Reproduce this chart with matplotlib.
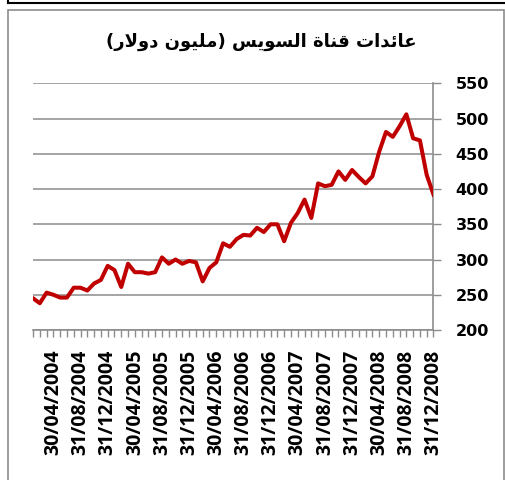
import matplotlib
matplotlib.use("Agg")
import matplotlib.pyplot as plt
from matplotlib.patches import Rectangle
from matplotlib.lines import Line2D

# Monthly Suez Canal revenue, Jan 2004 .. Dec 2008 (million USD)
revenue = [
    245, 238, 253, 250, 246, 246, 260, 260, 256, 266,
    271, 291, 285, 261, 294, 282, 282, 280, 282, 303,
    294, 300, 294, 298, 296, 269, 288, 296, 323, 318,
    329, 335, 334, 345, 339, 350, 350, 326, 352, 366,
    385, 359, 408, 404, 406, 425, 413, 427, 417, 408,
    418, 453, 481, 474, 489, 506, 472, 469, 420, 392,
]
tick_idx = [3, 7, 11, 15, 19, 23, 27, 31, 35, 39, 43, 47, 51, 55, 59]
tick_labels = [
    "30/04/2004", "31/08/2004", "31/12/2004",
    "30/04/2005", "31/08/2005", "31/12/2005",
    "30/04/2006", "31/08/2006", "31/12/2006",
    "30/04/2007", "31/08/2007", "31/12/2007",
    "30/04/2008", "31/08/2008", "31/12/2008",
]
y_ticks = [200, 250, 300, 350, 400, 450, 500, 550]

# Arabic title in visual order using presentation forms (matplotlib does no shaping)
w1 = "\ufe95\ufe8d\ufeaa\ufe8b\ufe8e\ufecb"          # عائدات
w2 = "\ufe93\ufe8e\ufee8\ufed7"                      # قناة
w3 = "\ufeb2\ufef3\ufeee\ufeb4\ufedf\ufe8d"          # السويس
w4 = "\ufee5\ufeee\ufef4\ufee0\ufee3"                # مليون
w5 = "\ufead\ufefb\ufeed\ufea9"                      # دولار
title = "(" + w5 + " " + w4 + ") " + w3 + " " + w2 + " " + w1

W, H = 506, 480
fig = plt.figure(figsize=(W / 100, H / 100), dpi=100)

# outer chart frame (bottom edge falls outside the image)
fig.add_artist(Rectangle((8 / W, -0.1), (W - 9.5) / W, 1.1 - 10 / H, transform=fig.transFigure,
                         fill=False, edgecolor="#8c8c8c", linewidth=1.2))
fig.add_artist(Line2D([8 / W, 1], [1 - 2.5 / H, 1 - 2.5 / H], transform=fig.transFigure,
                      color="black", linewidth=1.5))
fig.add_artist(Line2D([8 / W, 8 / W], [1 - 2.5 / H, 1], transform=fig.transFigure,
                      color="black", linewidth=1.5))

left, right, top, bottom = 33, 433.5, 83.3, 330
ax = fig.add_axes([left / W, 1 - bottom / H, (right - left) / W, (bottom - top) / H])

months = list(range(len(revenue)))
ax.plot(months, revenue, color="#c00000", linewidth=2.9, solid_joinstyle="round", zorder=3)

ax.set_xlim(0, len(revenue) - 1)
ax.set_ylim(200, 550)
ax.yaxis.tick_right()
ax.set_yticks(y_ticks)
ax.set_yticklabels([str(v) for v in y_ticks], fontsize=11.5, fontweight="bold",
                   family="DejaVu Sans")
ax.grid(axis="y", color="#8c8c8c", linewidth=1.1)
ax.set_axisbelow(True)

ax.set_xticks(tick_idx)
ax.set_xticklabels(tick_labels, rotation=90, fontsize=14, fontweight="bold",
                   family="Open Sans")
ax.set_xticks(months, minor=True)
ax.tick_params(axis="x", which="both", length=5, color="#8c8c8c", width=1, pad=9)
ax.tick_params(axis="y", length=6, color="#8c8c8c", width=1, pad=10)

for s in ["left", "top"]:
    ax.spines[s].set_visible(False)
for s in ["right", "bottom"]:
    ax.spines[s].set_color("#8c8c8c")
    ax.spines[s].set_linewidth(1.2)

fig.text(261 / W, 1 - 42 / H, title, ha="center", va="center", fontsize=13,
         fontweight="bold", family=["DejaVu Sans"])

fig.savefig("out.png", dpi=100)
